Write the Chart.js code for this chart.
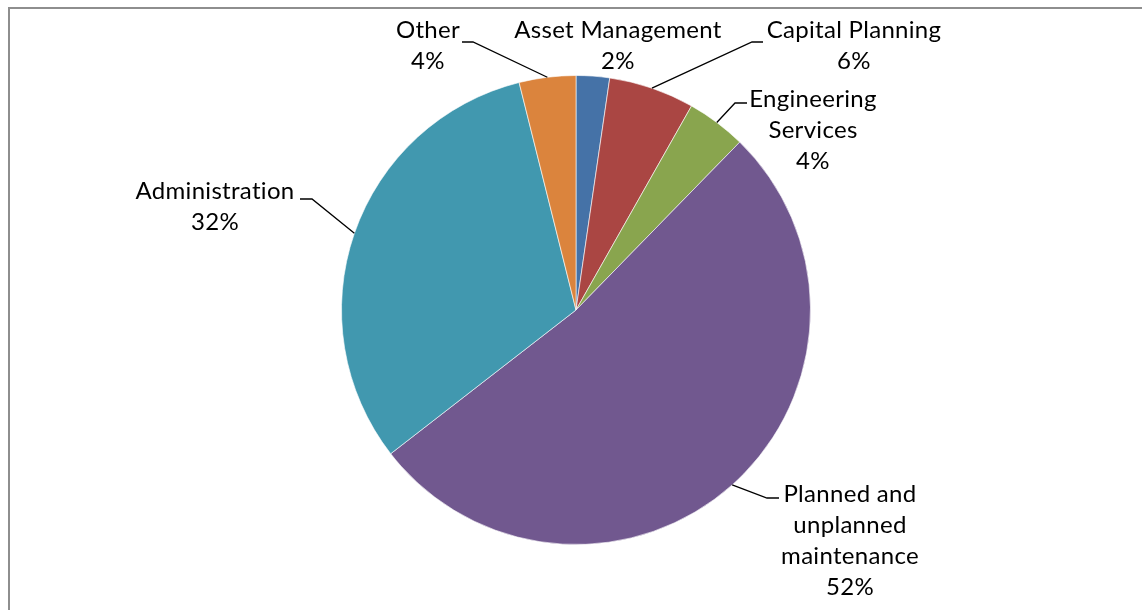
<!DOCTYPE html>
<html>
<head>
<meta charset="utf-8">
<title>Cost breakdown</title>
<script src="https://cdn.jsdelivr.net/npm/chart.js@4.4.1/dist/chart.umd.min.js"></script>
<style>
  html, body { margin: 0; padding: 0; background: #fff; overflow: hidden; }
  #wrap { position: relative; width: 1142px; height: 610px; }
  #frame {
    position: absolute; left: 8px; top: 7px; width: 1200px; height: 700px;
    border-top: 2px solid #8e8e8e; border-left: 2px solid #8e8e8e;
  }
  #pie { position: absolute; left: 0; top: 0; }
</style>
</head>
<body>
<div id="wrap">
  <div id="frame"></div>
  <canvas id="pie" width="1142" height="610"></canvas>
</div>
<script>
// ─── Data ────────────────────────────────────────────────────────────────────

const categories = [
  'Asset Management',
  'Capital Planning',
  'Engineering\nServices',
  'Planned and\nunplanned\nmaintenance',
  'Administration',
  'Other'
];
const shares = [2.3, 5.9, 4.1, 52.2, 31.6, 3.9];
const colors = ['#4572A7', '#AA4643', '#89A54E', '#71588F', '#4198AF', '#DB843D'];

// label placement relative to pie centre: text (first baseline) and leader elbow
const labelLayout = [
  { tx: 42,   ty: -272, lead: null },
  { tx: 278,  ty: -272, lead: { ex: 176,  ey: -268, end: 187 } },
  { tx: 237,  ty: -203, lead: { ex: 159,  ey: -207, end: 171 } },
  { tx: 274,  ty: 192,  lead: { ex: 191,  ey: 188,  end: 203 } },
  { tx: -361, ty: -111, lead: { ex: -264, ey: -111, end: -276 } },
  { tx: -148, ty: -272, lead: { ex: -103, ey: -268, end: -114 } }
];

const LINE_H = 31;
const FONT = '24px Lato, "Open Sans", sans-serif';

// ─── Labels with leader lines ────────────────────────────────────────────────

const pieLabels = {
  id: 'pieLabels',
  afterDatasetsDraw(chart) {
    const ctx = chart.ctx;
    const meta = chart.getDatasetMeta(0);
    const total = shares.reduce((a, b) => a + b, 0);

    ctx.save();
    ctx.strokeStyle = '#000';
    ctx.lineWidth = 1.3;
    ctx.fillStyle = '#000';
    ctx.font = FONT;
    ctx.letterSpacing = '0.3px'; // also stops the "ti" ligature
    ctx.textAlign = 'center';
    ctx.textBaseline = 'alphabetic';

    meta.data.forEach((arc, i) => {
      const p = arc.getProps(['x', 'y', 'startAngle', 'endAngle', 'outerRadius'], true);
      const L = labelLayout[i];

      if (L.lead) {
        const mid = (p.startAngle + p.endAngle) / 2;
        ctx.beginPath();
        ctx.moveTo(p.x + Math.cos(mid) * p.outerRadius, p.y + Math.sin(mid) * p.outerRadius);
        ctx.lineTo(p.x + L.lead.ex, p.y + L.lead.ey);
        ctx.lineTo(p.x + L.lead.end, p.y + L.lead.ey);
        ctx.stroke();
      }

      const lines = categories[i].split('\n');
      lines.push(Math.round(shares[i] / total * 100) + '%');
      lines.forEach((t, k) => {
        ctx.fillText(t, p.x + L.tx, p.y + L.ty + k * LINE_H);
      });
    });
    ctx.restore();
  }
};

// ─── Chart ───────────────────────────────────────────────────────────────────

new Chart(document.getElementById('pie'), {
  type: 'pie',
  data: {
    labels: categories,
    datasets: [{
      data: shares,
      backgroundColor: colors,
      borderColor: 'rgba(255,255,255,0.6)',
      borderWidth: 1
    }]
  },
  options: {
    responsive: false,
    animation: false,
    layout: { padding: { left: 341, right: 331, top: 75, bottom: 65 } },
    plugins: {
      legend: { display: false },
      tooltip: { enabled: false }
    }
  },
  plugins: [pieLabels]
});
</script>
</body>
</html>
